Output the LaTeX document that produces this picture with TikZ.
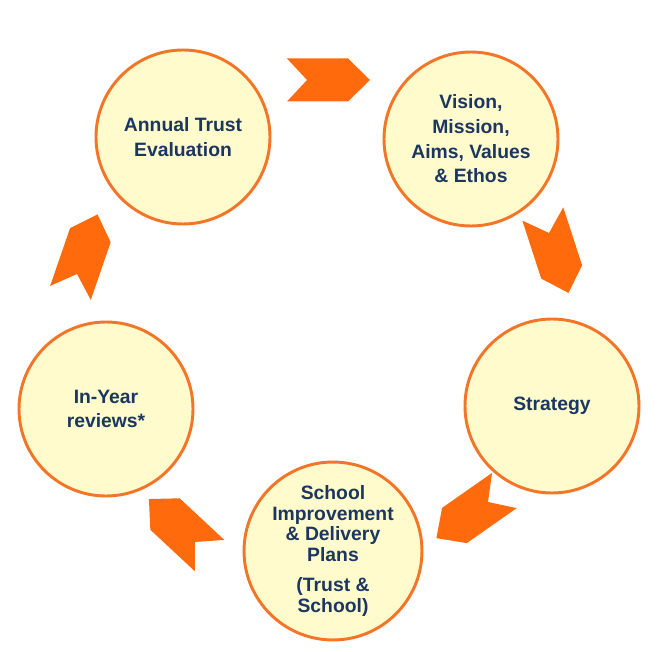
\documentclass[tikz,border=0pt]{standalone}
\usepackage{fontspec}
\setmainfont{Liberation Sans}
\definecolor{ringorange}{HTML}{F27528}
\definecolor{discfill}{HTML}{FFFBCC}
\definecolor{chevorange}{HTML}{FF6A0D}
\definecolor{labelblue}{HTML}{1B3660}
\tikzset{
  stage/.style={circle, draw=ringorange, line width=2.2pt, fill=discfill, minimum size=130.5pt, inner sep=0pt, align=center, text=labelblue, font=\bfseries\fontsize{14.5}{18.5}\selectfont},
  chevron/.pic={\fill[chevorange] (-20,-21.5) -- (41,-21.5) -- (63,0) -- (41,21.5) -- (-20,21.5) -- (0,0) -- cycle;}
}
\begin{document}
\begin{tikzpicture}[x=0.75pt, y=-0.75pt]
                \useasboundingbox (0,0) rectangle (672,652);
                \node[stage] (annual) at (183,137) {Annual Trust\\Evaluation}; \node[stage] (vision) at (471,139) {Vision,\\Mission,\\Aims, Values\\\& Ethos};
                \node[stage] (strategy) at (552,406) {Strategy}; \node[stage, font=\bfseries\fontsize{14.5}{15.5}\selectfont] (plans) at (333,551) {School\\Improvement\\\& Delivery\\Plans\\[7pt](Trust \&\\School)};
                \node[stage] (inyear) at (106,409) {In-Year\\reviews*};

                \pic[rotate=0] at (307,80) {chevron}; \pic[rotate=-72] at (549,233) {chevron};
                \pic[rotate=215] at (488,502) {chevron}; \pic[rotate=137] at (195,542) {chevron};
                \pic[rotate=71] at (77,274) {chevron};
            \end{tikzpicture}
\end{document}
